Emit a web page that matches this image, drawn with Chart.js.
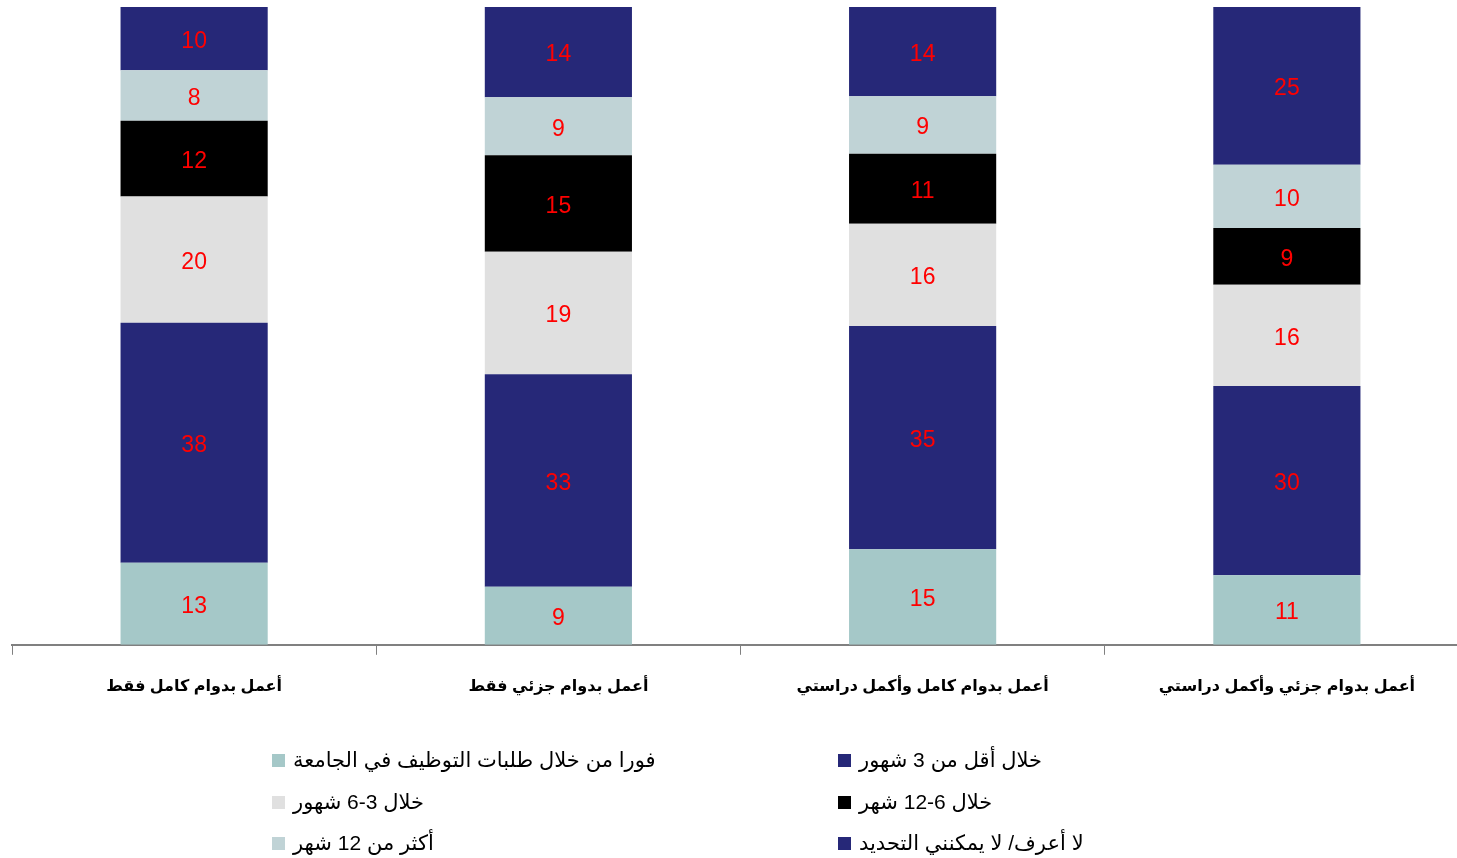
<!DOCTYPE html>
<html>
<head>
<meta charset="utf-8">
<script src="https://cdn.jsdelivr.net/npm/chart.js@4.4.1/dist/chart.umd.min.js"></script>
<style>
html,body{margin:0;padding:0;background:#fff;overflow:hidden;width:1457px;height:858px;}
#wrap{position:absolute;left:0;top:0;width:1470px;height:718px;}
#legend{position:absolute;left:0;top:0;width:1457px;height:858px;pointer-events:none;}
.item{position:absolute;display:flex;align-items:center;height:30px;font-family:"Liberation Sans","DejaVu Sans",sans-serif;font-size:21px;color:#000;}
.box{width:13px;height:13px;margin-right:8px;flex:none;}
.txt{direction:rtl;unicode-bidi:isolate;white-space:nowrap;}
</style>
</head>
<body>
<div id="wrap"><canvas id="c" width="1470" height="718"></canvas></div>
<div id="legend"></div>
<script>
const categories = ["أعمل بدوام كامل فقط","أعمل بدوام جزئي فقط","أعمل بدوام كامل وأكمل دراستي","أعمل بدوام جزئي وأكمل دراستي"];
const seriesNames = ["فورا من خلال طلبات التوظيف في الجامعة","خلال أقل من 3 شهور","خلال 3-6 شهور","خلال 6-12 شهر","أكثر من 12 شهر","لا أعرف/ لا يمكنني التحديد"];
const immediately = [13, 9, 15, 11];
const under3 = [38, 33, 35, 30];
const months3to6 = [20, 19, 16, 16];
const months6to12 = [12, 15, 11, 9];
const over12 = [8, 9, 9, 10];
const dontKnow = [10, 14, 14, 25];
const seriesColors = ["#A5C8C8","#262878","#E0E0E0","#000000","#C0D3D6","#262878"];

const raw = [immediately, under3, months3to6, months6to12, over12, dontKnow];
const totals = categories.map((_, i) => raw.reduce((s, arr) => s + arr[i], 0));

const datasets = raw.map((arr, k) => ({
  label: seriesNames[k],
  data: arr.map((v, i) => v / totals[i] * 100),
  rawValues: arr,
  backgroundColor: seriesColors[k],
  borderWidth: 0,
  categoryPercentage: 1,
  barPercentage: 0.404
}));

const valueLabels = {
  id: 'valueLabels',
  afterDatasetsDraw(chart) {
    const ctx = chart.ctx;
    ctx.save();
    ctx.font = '23px "Liberation Sans", "DejaVu Sans", sans-serif';
    ctx.fillStyle = '#FF0000';
    ctx.textAlign = 'center';
    ctx.textBaseline = 'middle';
    chart.data.datasets.forEach((ds, k) => {
      const meta = chart.getDatasetMeta(k);
      meta.data.forEach((el, i) => {
        const p = el.getCenterPoint();
        ctx.fillText(String(ds.rawValues[i]), p.x, p.y + 3);
      });
    });
    ctx.restore();
  }
};

const chart = new Chart(document.getElementById('c'), {
  type: 'bar',
  data: { labels: categories, datasets },
  options: {
    responsive: false,
    animation: false,
    layout: { padding: { left: 12, right: 1, top: 7, bottom: 0 } },
    plugins: { legend: { display: false }, tooltip: { enabled: false } },
    scales: {
      x: {
        stacked: true,
        grid: { display: true, offset: true, drawOnChartArea: false, drawTicks: true, tickLength: 10, color: '#808080', lineWidth: 1 },
        border: { display: true, color: '#808080', width: 2 },
        ticks: { color: '#000', font: { family: '"Liberation Sans","DejaVu Sans",sans-serif', size: 16, weight: 'bold' }, padding: 22, maxRotation: 0, autoSkip: false }
      },
      y: {
        stacked: true,
        display: false,
        min: 0,
        max: 100
      }
    }
  },
  plugins: [valueLabels]
});

// HTML legend from datasets
const legend = document.getElementById('legend');
const colX = [272, 838];
const rowY = [760, 802, 843];
chart.data.datasets.forEach((ds, k) => {
  const row = Math.floor(k / 2), col = k % 2;
  const d = document.createElement('div');
  d.className = 'item';
  d.style.left = colX[col] + 'px';
  d.style.top = (rowY[row] - 15) + 'px';
  const b = document.createElement('span');
  b.className = 'box';
  b.style.background = ds.backgroundColor;
  const t = document.createElement('span');
  t.className = 'txt';
  t.textContent = ds.label;
  d.appendChild(b); d.appendChild(t);
  legend.appendChild(d);
});
</script>
</body>
</html>
